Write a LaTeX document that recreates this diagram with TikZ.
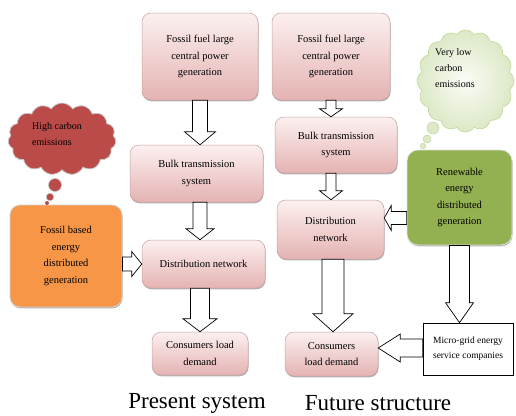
\documentclass[tikz,border=0pt]{standalone}
\usepackage{fontspec}
\setmainfont{Liberation Serif}
\usetikzlibrary{shapes.symbols,shadows,calc}
\definecolor{pinktop}{HTML}{FCF0F0}
\definecolor{pinkbot}{HTML}{E4B3B2}
\definecolor{pinkborder}{HTML}{C8A2A2}
\definecolor{orangefill}{HTML}{F79646}
\definecolor{greenfill}{HTML}{93B150}
\definecolor{redcloud}{HTML}{BB4B49}
\definecolor{gcloudin}{HTML}{FAFCF5}
\definecolor{gcloudout}{HTML}{DCE8C6}
\definecolor{gcloudborder}{HTML}{C3D69B}
\tikzset{
  txt/.style={font=\fontsize{10.5}{16.5}\selectfont, align=center},
  shad/.style={drop shadow={shadow xshift=0.5pt,shadow yshift=-1.3pt,fill=black!55,opacity=0.55}},
  pbox/.style={txt, rounded corners=9pt, draw=pinkborder, line width=0.5pt,
    top color=pinktop, bottom color=pinkbot, inner sep=1pt, shad},
  obox/.style={txt, rounded corners=10pt, draw=gray!35, line width=0.8pt,
    fill=orangefill, inner sep=1pt, shad},
  gbox/.style={txt, rounded corners=11pt, draw=gray!25, line width=0.8pt,
    fill=greenfill, inner sep=1pt, shad},
  wbox/.style={font=\fontsize{9.5}{15}\selectfont, align=center, draw=black,
    line width=0.6pt, fill=white, inner sep=1pt},
  blk/.style={draw=black, fill=white, line width=0.7pt, line join=miter},
  cloudtxt/.style={font=\fontsize{10}{16}\selectfont, align=left, inner sep=0pt},
  title/.style={font=\fontsize{23}{26}\selectfont, inner sep=0pt}
}
\newcommand\varrow[5]{%
  \draw[blk] let \p1=(#1), \p2=(#2) in
    ({\x1-#3pt},\y1) -- ({\x1+#3pt},\y1) -- ({\x1+#3pt},{\y2+#5pt}) --
    ({\x1+#4pt},{\y2+#5pt}) -- (\x1,\y2) -- ({\x1-#4pt},{\y2+#5pt}) --
    ({\x1-#3pt},{\y2+#5pt}) -- cycle;}
\newcommand\harrow[5]{%
  \draw[blk] let \p1=(#1), \p2=(#2), \n1={sign(\x2-\x1)} in
    (\x1,{\y2-#3pt}) -- (\x1,{\y2+#3pt}) -- ({\x2-(\n1)*#5pt},{\y2+#3pt}) --
    ({\x2-(\n1)*#5pt},{\y2+#4pt}) -- (\x2,\y2) -- ({\x2-(\n1)*#5pt},{\y2-#4pt}) --
    ({\x2-(\n1)*#5pt},{\y2-#3pt}) -- cycle;}
\begin{document}
\begin{tikzpicture}[x=1pt,y=-1pt]
\useasboundingbox (0,0) rectangle (516,415);

% ---- Present system ----
\node[pbox, minimum width=116pt, minimum height=87pt] (b1) at (200,56.5)
  {Fossil fuel large\\central power\\generation};
\node[pbox, minimum width=133pt, minimum height=57pt] (b2) at (196.5,173.5)
  {Bulk transmission\\system};
\node[pbox, minimum width=123pt, minimum height=48pt] (b3) at (203.5,264)
  {Distribution network};
\node[pbox, minimum width=96pt, minimum height=43pt] (b4) at (200,353.5)
  {Consumers load\\demand};
\node[obox, minimum width=112pt, minimum height=102pt] (ob) at (66,256)
  {Fossil based\\energy\\distributed\\generation};

% red cloud
\node[cloud, cloud puffs=15, cloud puff arc=115, aspect=1.55,
  minimum width=108pt, minimum height=72pt, fill=redcloud,
  draw=gray!45, line width=0.8pt] (rc) at (62,139) {};
\fill[redcloud, draw=gray!45, line width=0.6pt] (55,185) circle (6.5pt);
\fill[redcloud, draw=gray!45, line width=0.5pt] (50,197) circle (3.8pt);
\fill[redcloud] (47,203) circle (2pt);
\node[cloudtxt, anchor=north west] (rct) at (32,122) {High carbon\\emissions};

\varrow{b1.south}{b2.north}{7.5}{15.5}{13}
\varrow{b1.south |- b2.south}{b3.north}{7}{14}{11}
\varrow{b4.north |- b3.south}{b4.north}{9.5}{17}{13}
\harrow{ob.east}{b3.west}{7}{12.5}{10}

\node[title] (t1) at (197,403) {Present system};

% ---- Future structure ----
\node[pbox, minimum width=118pt, minimum height=87pt] (r1) at (331,56.5)
  {Fossil fuel large\\central power\\generation};
\node[pbox, minimum width=122pt, minimum height=56pt] (r2) at (336,145)
  {Bulk transmission\\system};
\node[pbox, minimum width=107pt, minimum height=59pt] (r3) at (330.5,229.5)
  {Distribution\\network};
\node[pbox, minimum width=93pt, minimum height=44pt] (r4) at (331.5,354)
  {Consumers\\load demand};
\node[gbox, minimum width=105pt, minimum height=95pt] (gb) at (459.5,197.5)
  {Renewable\\energy\\distributed\\generation};
\node[wbox, minimum width=90pt, minimum height=52pt] (mg) at (468,349)
  {Micro-grid energy\\service companies};

% green cloud
\node[cloud, cloud puffs=16, cloud puff arc=115, aspect=0.95,
  minimum width=97pt, minimum height=102pt, inner color=gcloudin,
  outer color=gcloudout, draw=gcloudborder, line width=0.6pt] (gc) at (465.5,81) {};
\fill[gcloudout, draw=gcloudborder, line width=0.5pt] (433,128) circle (6pt);
\fill[gcloudout, draw=gcloudborder, line width=0.5pt] (427,139) circle (4pt);
\fill[gcloudout, draw=gcloudborder, line width=0.4pt] (423,146) circle (2.8pt);
\node[cloudtxt, anchor=north west] (gct) at (435,48) {Very low\\carbon\\emissions};

\varrow{r1.south}{r1.south |- r2.north}{5}{11.5}{8}
\varrow{r1.south |- r2.south}{r1.south |- r3.north}{5}{11.5}{9}
\varrow{$(r3.south)+(2.5,0)$}{$(r4.north)+(1.5,0)$}{11}{20}{18}
\varrow{gb.south}{gb.south |- mg.north}{10}{14}{20}
\harrow{gb.west}{$(r3.east)+(0,-11.5)$}{6.5}{12.5}{7}
\harrow{mg.west}{$(r4.east)+(0,-6)$}{9}{14}{22}

\node[title] (t2) at (378,403) {Future structure};
\end{tikzpicture}
\end{document}
